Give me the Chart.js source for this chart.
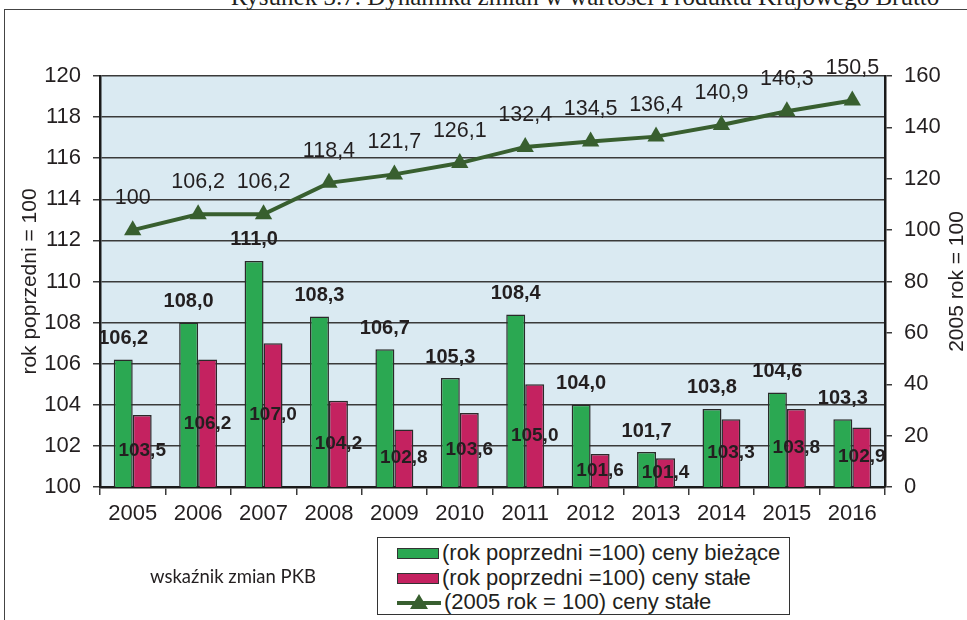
<!DOCTYPE html>
<html>
<head>
<meta charset="utf-8">
<script src="https://cdn.jsdelivr.net/npm/chart.js@4.4.1/dist/chart.umd.min.js"></script>
<style>
  html, body { margin: 0; padding: 0; background: #fff; }
  #wrap { position: relative; width: 967px; height: 620px; overflow: hidden; }
  #title {
    position: absolute; left: 585px; top: -17px; transform: translateX(-50%);
    font: 25px 'Liberation Serif', 'DejaVu Serif', serif; color: #231f20;
    white-space: nowrap;
  }
  #frame {
    position: absolute; left: 4px; top: 9px; width: 1000px; height: 700px;
    border: 1px solid #444; background: transparent;
  }
  #chart { position: absolute; left: 0; top: 0; }
  #note {
    position: absolute; left: 150px; top: 565px;
    font: 18.5px Lato, 'Open Sans', sans-serif; color: #231f20;
  }
  #legend {
    position: absolute; left: 377px; top: 537px; width: 413px; height: 78px;
    border: 1px solid #333; box-sizing: border-box; background: #fff;
    font: 22px 'Liberation Sans', Arial, sans-serif; color: #231f20;
  }
  .row { position: absolute; left: 19px; height: 26px; line-height: 26px; white-space: nowrap; }
  .sw { display: inline-block; width: 40px; height: 9px; border: 1px solid #333; vertical-align: middle; margin-right: 3px; position: relative; top: -1px; }
  .row svg { vertical-align: middle; margin-right: 3px; position: relative; top: -1px; }
</style>
</head>
<body>
<div id="wrap">
  <div id="frame"></div>
  <div id="title"></div>
  <canvas id="chart" width="967" height="620"></canvas>
  <div id="note"></div>
  <div id="legend"></div>
</div>
<script>
(function () {
  'use strict';

  // ---------------------------------------------------------------------------
  // Data
  // ---------------------------------------------------------------------------

  var TITLE = 'Rysunek 3.7. Dynamika zmian w wartości Produktu Krajowego Brutto';
  var NOTE = 'wskaźnik zmian PKB';

  var YEARS = ['2005', '2006', '2007', '2008', '2009', '2010',
               '2011', '2012', '2013', '2014', '2015', '2016'];

  // rok poprzedni = 100, ceny bieżące
  var CURRENT_PRICES  = [106.2, 108.0, 111.0, 108.3, 106.7, 105.3,
                         108.4, 104.0, 101.7, 103.8, 104.6, 103.3];
  // rok poprzedni = 100, ceny stałe
  var CONSTANT_PRICES = [103.5, 106.2, 107.0, 104.2, 102.8, 103.6,
                         105.0, 101.6, 101.4, 103.3, 103.8, 102.9];
  // 2005 rok = 100, ceny stałe
  var INDEX_2005      = [100, 106.2, 106.2, 118.4, 121.7, 126.1,
                         132.4, 134.5, 136.4, 140.9, 146.3, 150.5];

  var SERIES_LABELS = [
    '(rok poprzedni =100) ceny bieżące',
    '(rok poprzedni =100) ceny stałe',
    '(2005 rok = 100) ceny stałe'
  ];

  var LEFT_AXIS  = { title: 'rok poprzedni = 100', min: 100, max: 120, step: 2 };
  var RIGHT_AXIS = { title: '2005 rok = 100', min: 0, max: 160, step: 20 };

  // ---------------------------------------------------------------------------
  // Style
  // ---------------------------------------------------------------------------

  var GREEN    = '#2ba852';
  var MAGENTA  = '#c42260';
  var LINE     = '#385f2f';
  var PLOT_BG  = '#daeaf2';
  var INK      = '#231f20';
  var GRID     = '#3a3a3a';
  var SANS     = "'Liberation Sans', Arial, sans-serif";

  function fmt(v) {
    if (Number.isInteger(v)) return String(v);
    return v.toFixed(1).replace('.', ',');
  }
  function fmt1(v) { return v.toFixed(1).replace('.', ','); }

  // ---------------------------------------------------------------------------
  // Plugins
  // ---------------------------------------------------------------------------

  var plotBackground = {
    id: 'plotBackground',
    beforeDraw: function (chart) {
      var a = chart.chartArea, ctx = chart.ctx;
      ctx.save();
      ctx.fillStyle = PLOT_BG;
      ctx.fillRect(a.left, a.top, a.right - a.left, a.bottom - a.top);
      ctx.restore();
    }
  };

  var valueLabels = {
    id: 'valueLabels',
    afterDatasetsDraw: function (chart) {
      var ctx = chart.ctx;
      var base = chart.scales.y.getPixelForValue(LEFT_AXIS.min);
      ctx.save();
      ctx.fillStyle = INK;
      ctx.textAlign = 'center';
      ctx.textBaseline = 'middle';
      chart.data.datasets.forEach(function (ds, i) {
        var meta = chart.getDatasetMeta(i);
        meta.data.forEach(function (el, j) {
          var v = ds.data[j];
          var p = el.getProps(['x', 'y'], true);
          if (ds.labelMode === 'above') {
            ctx.font = 'bold 20px ' + SANS;
            ctx.fillText(fmt1(v), p.x, p.y - 21);
          } else if (ds.labelMode === 'middle') {
            ctx.font = 'bold 19px ' + SANS;
            ctx.fillText(fmt1(v), p.x, (p.y + base) / 2);
          } else {
            ctx.font = '21.5px ' + SANS;
            ctx.fillText(fmt(v), p.x, p.y - 32);
          }
        });
      });
      ctx.restore();
    }
  };

  var rightTitle = {
    id: 'rightTitle',
    afterDraw: function (chart) {
      var a = chart.chartArea, ctx = chart.ctx;
      ctx.save();
      ctx.translate(957, (a.top + a.bottom) / 2);
      ctx.rotate(-Math.PI / 2);
      ctx.font = '21px ' + SANS;
      ctx.fillStyle = INK;
      ctx.textAlign = 'center';
      ctx.textBaseline = 'middle';
      ctx.fillText(RIGHT_AXIS.title, 0, 0);
      ctx.restore();
    }
  };

  // ---------------------------------------------------------------------------
  // Chart
  // ---------------------------------------------------------------------------

  new Chart(document.getElementById('chart'), {
    type: 'bar',
    data: {
      labels: YEARS,
      datasets: [
        {
          type: 'line',
          label: SERIES_LABELS[2],
          data: INDEX_2005,
          yAxisID: 'y2',
          borderColor: LINE,
          backgroundColor: LINE,
          borderWidth: 4,
          pointStyle: 'triangle',
          pointRadius: 10,
          pointBorderWidth: 0,
          tension: 0,
          clip: false,
          labelMode: 'line',
          order: 0
        },
        {
          label: SERIES_LABELS[0],
          data: CURRENT_PRICES,
          yAxisID: 'y',
          backgroundColor: GREEN,
          borderColor: '#2a2a2a',
          borderWidth: 1.5,
          labelMode: 'above',
          order: 1
        },
        {
          label: SERIES_LABELS[1],
          data: CONSTANT_PRICES,
          yAxisID: 'y',
          backgroundColor: MAGENTA,
          borderColor: '#2a2a2a',
          borderWidth: 1.5,
          labelMode: 'middle',
          order: 1
        }
      ]
    },
    options: {
      responsive: false,
      animation: false,
      categoryPercentage: 0.58,
      barPercentage: 1.0,
      layout: { padding: { top: 76, left: 0, right: 0, bottom: 0 } },
      plugins: {
        legend: { display: false },
        tooltip: { enabled: false }
      },
      scales: {
        x: {
          offset: true,
          grid: {
            display: true, offset: true, drawOnChartArea: false,
            drawTicks: true, tickLength: 8, color: GRID, lineWidth: 1.5
          },
          border: { color: '#1a1a1a', width: 2.5 },
          ticks: { color: INK, font: { family: SANS, size: 22 }, padding: 6, maxRotation: 0 },
          afterFit: function (s) { s.height = 133; }
        },
        y: {
          position: 'left',
          min: LEFT_AXIS.min, max: LEFT_AXIS.max,
          grid: { color: GRID, lineWidth: 1.5, drawTicks: true, tickLength: 7 },
          border: { color: '#1a1a1a', width: 2.5 },
          ticks: { stepSize: LEFT_AXIS.step, color: INK, font: { family: SANS, size: 22 }, padding: 12 },
          title: {
            display: true, text: LEFT_AXIS.title, color: INK,
            font: { family: SANS, size: 21 }, padding: { top: 18, bottom: 0 }
          },
          afterFit: function (s) { s.width = 100; }
        },
        y2: {
          position: 'right',
          min: RIGHT_AXIS.min, max: RIGHT_AXIS.max,
          grid: { drawOnChartArea: false, drawTicks: true, tickLength: 7, color: GRID, lineWidth: 1.5 },
          border: { color: '#1a1a1a', width: 2.5 },
          ticks: { stepSize: RIGHT_AXIS.step, color: INK, font: { family: SANS, size: 22 }, padding: 12 },
          afterFit: function (s) { s.width = 82; }
        }
      }
    },
    plugins: [plotBackground, valueLabels, rightTitle]
  });

  // ---------------------------------------------------------------------------
  // Title, note and legend
  // ---------------------------------------------------------------------------

  document.getElementById('title').textContent = TITLE;
  document.getElementById('note').textContent = NOTE;

  var legend = document.getElementById('legend');
  var swatches = [
    '<span class="sw" style="background:' + GREEN + '"></span>',
    '<span class="sw" style="background:' + MAGENTA + '"></span>',
    '<svg width="44" height="18"><line x1="0" y1="10" x2="44" y2="10" stroke="' + LINE +
      '" stroke-width="4"/><polygon points="22,1 31,16 13,16" fill="' + LINE + '"/></svg>'
  ];
  var rowTops = [2, 27, 51];
  SERIES_LABELS.forEach(function (lbl, i) {
    var row = document.createElement('div');
    row.className = 'row';
    row.style.top = rowTops[i] + 'px';
    row.innerHTML = swatches[i];
    row.appendChild(document.createTextNode(lbl));
    legend.appendChild(row);
  });
})();
</script>
</body>
</html>
